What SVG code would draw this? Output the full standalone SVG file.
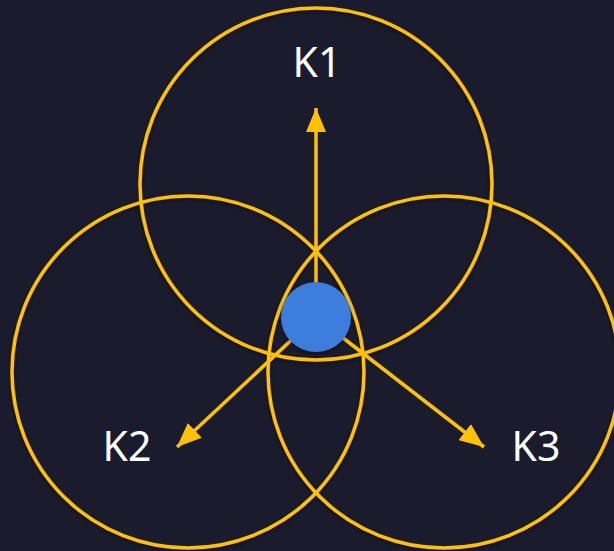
<svg xmlns="http://www.w3.org/2000/svg" width="614" height="551" viewBox="0 0 614 551">
<style>
.ring{fill:none;stroke:#FFC107;stroke-width:3.5}
.arrow{stroke:#FFC107;stroke-width:3.5;fill:none}
.lbl{font-family:"Noto Sans","Open Sans",sans-serif;font-size:41px;fill:#ffffff;text-anchor:middle}
</style>
<defs>
<marker id="ah" viewBox="0 0 12 10" refX="12" refY="5" markerWidth="7" markerHeight="5.8" markerUnits="strokeWidth" orient="auto">
<path d="M0,0 L12,5 L0,10 Z" fill="#FFC107"/>
</marker>
<filter id="sh" x="-10%" y="-10%" width="120%" height="120%">
<feDropShadow dx="0" dy="2" stdDeviation="2" flood-color="#000" flood-opacity="0.4"/>
</filter>
</defs>
<rect width="614" height="551" fill="#1b1b2e"/>
<g id="circles" filter="url(#sh)">
<circle id="c1" class="ring" cx="316" cy="184" r="176"/>
<circle id="c2" class="ring" cx="188" cy="372" r="176"/>
<circle id="c3" class="ring" cx="444" cy="372" r="176"/>
</g>
<g id="connectors">
<line class="arrow" x1="316" y1="317" x2="316" y2="108" marker-end="url(#ah)"/>
<line class="arrow" x1="316" y1="317" x2="177" y2="447" marker-end="url(#ah)"/>
<line class="arrow" x1="316" y1="317" x2="484" y2="447" marker-end="url(#ah)"/>
</g>
<g id="center" filter="url(#sh)">
<circle cx="316" cy="317" r="35" fill="#3d7ddc"/>
</g>
<g id="k1"><text class="lbl" x="317" y="77">K1</text></g>
<g id="k2"><text class="lbl" x="127" y="461">K2</text></g>
<g id="k3"><text class="lbl" x="536" y="461">K3</text></g>
</svg>
